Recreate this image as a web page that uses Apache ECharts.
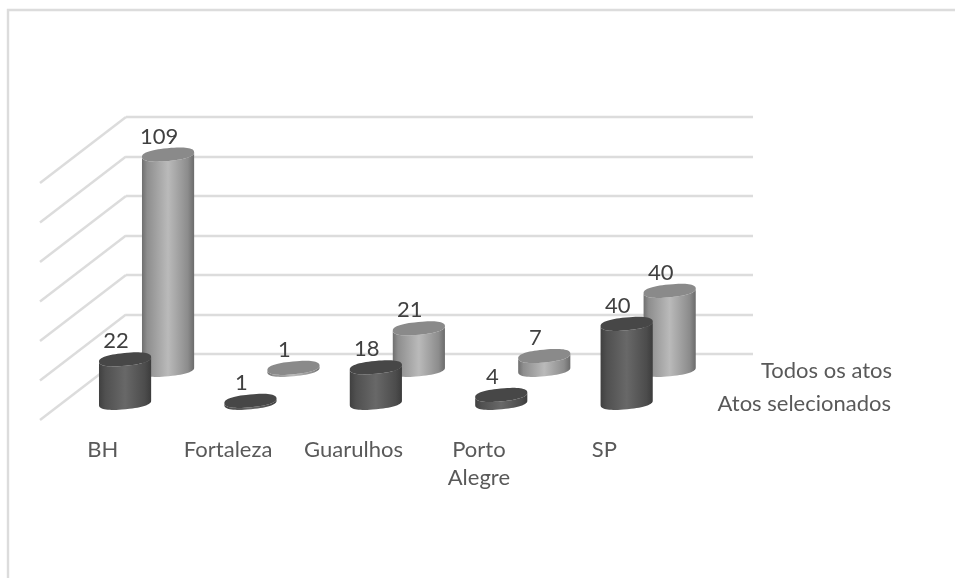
<!DOCTYPE html>
<html>
<head>
<meta charset="utf-8">
<script src="https://cdn.jsdelivr.net/npm/echarts@6/dist/echarts.min.js"></script>
<style>html,body{margin:0;padding:0;background:#fff}#chart{width:955px;height:578px}</style>
</head>
<body>
<div id="chart"></div>
<script>
// Cities on the category axis
const categories = ['BH', 'Fortaleza', 'Guarulhos', 'Porto\nAlegre', 'SP'];
// Row nearest the viewer
const atosSelecionados = [22, 1, 18, 4, 40];
// Row behind it
const todosOsAtos = [109, 1, 21, 7, 40];
// Value ticks shared by the back wall and the side wall
const valueTicks = [0, 20, 40, 60, 80, 100, 120];
const rowNames = ['Todos os atos', 'Atos selecionados'];

const FONT = 'Lato, "Open Sans", sans-serif';
const GRID_COLOR = '#dcdcdc';
// Oblique projection: pixels moved from the front edge of the floor to the back wall
const DEPTH_X = 86;
const DEPTH_Y = -66;
const RX = 26.2;
const RY = 6.4;
const TILT = -5.5 * Math.PI / 180;
// Slightly squared-off ellipse for the cylinder caps
const ROUNDNESS = 2 / 2.4;

const chart = echarts.init(document.getElementById('chart'));

function ellipsePoint(cx, cy, a) {
  const c = Math.cos(a), s = Math.sin(a);
  const ex = RX * Math.sign(c) * Math.pow(Math.abs(c), ROUNDNESS);
  const ey = RY * Math.sign(s) * Math.pow(Math.abs(s), ROUNDNESS);
  return [cx + ex * Math.cos(TILT) - ey * Math.sin(TILT),
          cy + ex * Math.sin(TILT) + ey * Math.cos(TILT)];
}

function ellipse(cx, cy) {
  const pts = [];
  for (let i = 0; i < 64; i++) pts.push(ellipsePoint(cx, cy, i / 64 * Math.PI * 2));
  return pts;
}

function cylinderRenderer(depth, body, cap) {
  return function (params, api) {
    const base = api.coord([api.value(0), 0]);
    const top = api.coord([api.value(0), api.value(1)]);
    const bx = base[0] + DEPTH_X * depth, by = base[1] + DEPTH_Y * depth;
    const ty = top[1] + DEPTH_Y * depth;

    // Side wall: lower half of the base ellipse closed against the top ellipse
    const wall = [];
    for (let i = 0; i <= 32; i++) wall.push(ellipsePoint(bx, by, i / 32 * Math.PI));
    for (let i = 0; i <= 32; i++) wall.push(ellipsePoint(bx, ty, Math.PI - i / 32 * Math.PI));

    return {
      type: 'group',
      children: [
        {
          type: 'polygon',
          shape: { points: wall },
          style: {
            fill: new echarts.graphic.LinearGradient(0, 0, 1, 0, body)
          }
        },
        { type: 'polygon', shape: { points: ellipse(bx, ty) }, style: { fill: cap } },
        {
          type: 'text',
          z2: 10,
          style: {
            text: String(api.value(1)),
            x: bx - 9,
            y: ty - 18,
            align: 'center',
            verticalAlign: 'middle',
            font: '22px ' + FONT,
            fill: '#404040'
          }
        }
      ]
    };
  };
}

const backBody = [
  { offset: 0, color: '#6f6f6f' },
  { offset: 0.1, color: '#8e8e8e' },
  { offset: 0.5, color: '#bababa' },
  { offset: 0.88, color: '#8c8c8c' },
  { offset: 1, color: '#6b6b6b' }
];
const frontBody = [
  { offset: 0, color: '#404040' },
  { offset: 0.12, color: '#505050' },
  { offset: 0.5, color: '#686868' },
  { offset: 0.88, color: '#4c4c4c' },
  { offset: 1, color: '#3c3c3c' }
];

function pairs(values) {
  return values.map((v, i) => [i, v]);
}

chart.setOption({
  animation: false,
  backgroundColor: '#fff',
  grid: [
    // Front edge of the floor: carries the city labels and the value scale
    { left: 40, width: 627, top: 183, height: 237 },
    // Back wall
    { left: 126, width: 627, top: 117, height: 237 }
  ],
  xAxis: [
    {
      type: 'category', gridIndex: 0, data: categories,
      axisLine: { show: false }, axisTick: { show: false }, splitLine: { show: false },
      axisLabel: { color: '#595959', fontFamily: FONT, fontSize: 22, lineHeight: 28, margin: 16, verticalAlign: 'top', interval: 0, hideOverlap: false }
    },
    {
      type: 'category', gridIndex: 1, data: categories,
      axisLine: { show: false }, axisTick: { show: false }, axisLabel: { show: false }, splitLine: { show: false }
    }
  ],
  yAxis: [
    {
      type: 'value', gridIndex: 0, min: 0, max: 120, interval: 20,
      axisLine: { show: false }, axisTick: { show: false }, axisLabel: { show: false }, splitLine: { show: false }
    },
    {
      type: 'value', gridIndex: 1, min: 0, max: 120, interval: 20,
      axisLine: { show: false }, axisTick: { show: false }, axisLabel: { show: false },
      splitLine: { show: true, lineStyle: { color: GRID_COLOR, width: 2.4 } }
    }
  ],
  series: [
    {
      // Side wall lines running from the front edge back to the wall
      type: 'custom',
      xAxisIndex: 0, yAxisIndex: 0,
      silent: true,
      z: 1,
      clip: false,
      data: valueTicks.map(v => [0, v]),
      renderItem(params, api) {
        const p = api.coord([0, api.value(1)]);
        const x0 = params.coordSys.x;
        return {
          type: 'line',
          shape: { x1: x0, y1: p[1], x2: x0 + DEPTH_X, y2: p[1] + DEPTH_Y },
          style: { stroke: GRID_COLOR, lineWidth: 2.4 }
        };
      }
    },
    {
      name: rowNames[0],
      type: 'custom',
      xAxisIndex: 0, yAxisIndex: 0,
      z: 3,
      clip: false,
      data: pairs(todosOsAtos),
      renderItem: cylinderRenderer(0.76, backBody, '#8a8a8a')
    },
    {
      name: rowNames[1],
      type: 'custom',
      xAxisIndex: 0, yAxisIndex: 0,
      z: 4,
      clip: false,
      data: pairs(atosSelecionados),
      renderItem: cylinderRenderer(0.26, frontBody, '#474747')
    }
  ],
  graphic: [
    {
      // Chart frame: left and top edges
      type: 'polyline', z: 0, silent: true,
      shape: { points: [[8, 578], [8, 10], [955, 10]] },
      style: { fill: 'none', stroke: GRID_COLOR, lineWidth: 2.4 }
    },
    {
      type: 'text', z: 5,
      style: { text: rowNames[0], x: 892, y: 371, align: 'right', verticalAlign: 'middle', font: '22px ' + FONT, fill: '#595959' }
    },
    {
      type: 'text', z: 5,
      style: { text: rowNames[1], x: 891, y: 404, align: 'right', verticalAlign: 'middle', font: '22px ' + FONT, fill: '#595959' }
    }
  ]
});
</script>
</body>
</html>
